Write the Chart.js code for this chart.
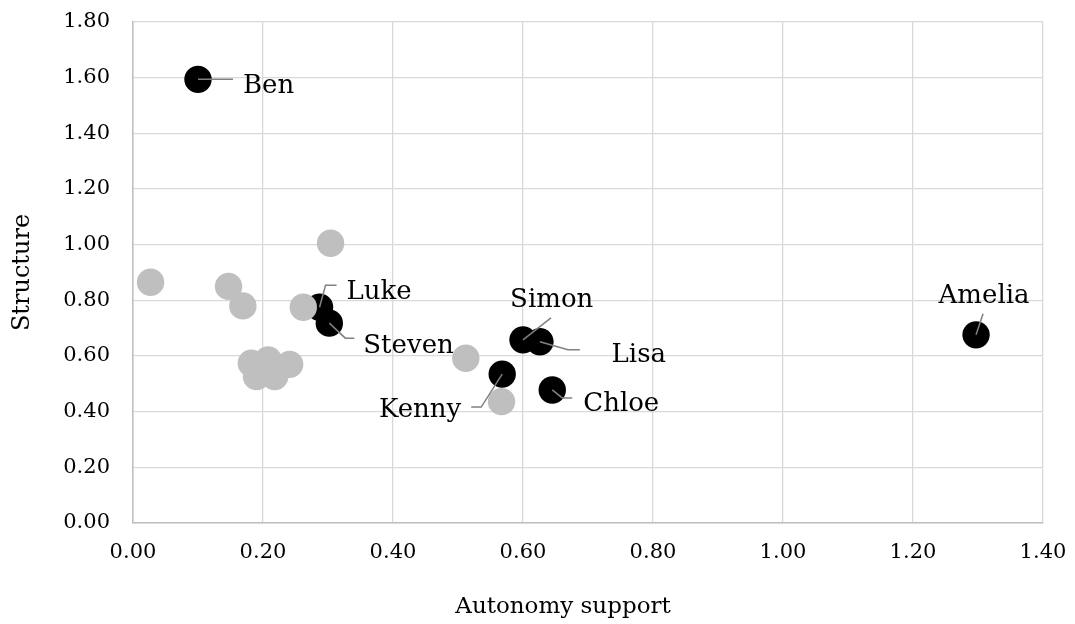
<!DOCTYPE html>
<html>
<head>
<meta charset="utf-8">
<script src="https://cdn.jsdelivr.net/npm/chart.js@4/dist/chart.umd.min.js"></script>
<style>
  html, body { margin: 0; padding: 0; background: #ffffff; }
  #wrap { width: 1075px; height: 624px; position: relative; }
</style>
</head>
<body>
<div id="wrap"><canvas id="c"></canvas></div>
<script>
// ---- Data ----
const namedNames = ['Ben', 'Luke', 'Steven', 'Simon', 'Lisa', 'Kenny', 'Chloe', 'Amelia'];
const namedAutonomy = [0.100, 0.287, 0.302, 0.600, 0.626, 0.568, 0.645, 1.297];
const namedStructure = [1.594, 0.775, 0.718, 0.658, 0.651, 0.535, 0.478, 0.676];

const otherAutonomy = [0.027, 0.147, 0.169, 0.304, 0.262, 0.182, 0.208, 0.241, 0.190, 0.218, 0.512, 0.567];
const otherStructure = [0.865, 0.850, 0.780, 1.005, 0.775, 0.574, 0.586, 0.570, 0.526, 0.526, 0.592, 0.436];

const xTickValues = [0, 0.2, 0.4, 0.6, 0.8, 1.0, 1.2, 1.4];
const yTickValues = [0, 0.2, 0.4, 0.6, 0.8, 1.0, 1.2, 1.4, 1.6, 1.8];

const xTitle = 'Autonomy support';
const yTitle = 'Structure';

// ---- Label layout (pixel offsets from the point, separate from data) ----
const labelLayout = {
  Ben:    { path: [[0, 0], [35, 0]],            text: [45, 13.4],  align: 'left' },
  Luke:   { path: [[0, 0], [6, -22], [17, -22]], text: [27, -8],   align: 'left' },
  Steven: { path: [[0, 0], [16, 15], [25, 15]],  text: [34, 30],   align: 'left' },
  Simon:  { path: [[0, 0], [28, -22]],           text: [28.7, -33.3], align: 'center' },
  Lisa:   { path: [[0, 0], [28, 8], [40, 8]],    text: [71.7, 20], align: 'left' },
  Kenny:  { path: [[0, 0], [-21, 33], [-31, 33]], text: [-41, 42.7], align: 'right' },
  Chloe:  { path: [[0, 0], [10, 8], [20, 8]],    text: [31, 20.7], align: 'left' },
  Amelia: { path: [[0, 0], [7, -21]],            text: [8, -31.7], align: 'center' }
};
// x-axis title placement (canvas px): centre x, baseline y
const xTitleLayout = { x: 563, y: 613 };

const FONT = '"DejaVu Serif", "Liberation Serif", serif';

const namedPoints = namedNames.map((n, i) => ({ x: namedAutonomy[i], y: namedStructure[i], name: n }));
const otherPoints = otherAutonomy.map((v, i) => ({ x: v, y: otherStructure[i] }));

const labelPlugin = {
  id: 'pointLabels',
  afterDatasetsDraw(chart) {
    const ctx = chart.ctx;
    const meta = chart.getDatasetMeta(1);
    ctx.save();
    meta.data.forEach((el, i) => {
      const name = namedNames[i];
      const lay = labelLayout[name];
      if (!lay) return;
      const px = el.x, py = el.y;
      ctx.beginPath();
      ctx.strokeStyle = '#808080';
      ctx.lineWidth = 1.5;
      lay.path.forEach((p, k) => {
        if (k === 0) ctx.moveTo(px + p[0], py + p[1]);
        else ctx.lineTo(px + p[0], py + p[1]);
      });
      ctx.stroke();
      ctx.fillStyle = '#000000';
      ctx.font = '26px ' + FONT;
      ctx.textAlign = lay.align;
      ctx.textBaseline = 'alphabetic';
      ctx.fillText(name, px + lay.text[0], py + lay.text[1]);
    });
    // x-axis title
    ctx.fillStyle = '#000000';
    ctx.font = '23px ' + FONT;
    ctx.textAlign = 'center';
    ctx.textBaseline = 'alphabetic';
    ctx.fillText(xTitle, xTitleLayout.x, xTitleLayout.y);
    ctx.restore();
  }
};

new Chart(document.getElementById('c'), {
  type: 'scatter',
  data: {
    datasets: [
      {
        label: 'Others',
        data: otherPoints,
        backgroundColor: '#bfbfbf',
        borderColor: '#bfbfbf',
        borderWidth: 0,
        pointRadius: 13.7,
        pointHoverRadius: 13.7,
        order: 0
      },
      {
        label: 'Named',
        data: namedPoints,
        backgroundColor: '#000000',
        borderColor: '#000000',
        borderWidth: 0,
        pointRadius: 13.7,
        pointHoverRadius: 13.7,
        order: 1
      }
    ]
  },
  options: {
    responsive: true,
    maintainAspectRatio: false,
    animation: false,
    events: [],
    layout: { padding: { left: 0, top: 22, right: 32, bottom: 0 } },
    plugins: {
      legend: { display: false },
      tooltip: { enabled: false }
    },
    scales: {
      x: {
        type: 'linear',
        min: xTickValues[0],
        max: xTickValues[xTickValues.length - 1],
        afterBuildTicks(scale) { scale.ticks = xTickValues.map(v => ({ value: v })); },
        afterFit(scale) { scale.height = 101; scale.paddingLeft = 0; scale.paddingRight = 0; },
        ticks: {
          padding: 17,
          color: '#000000',
          font: { family: FONT, size: 21 },
          callback: v => Number(v).toFixed(2),
          maxRotation: 0
        },
        grid: { color: '#d9d9d9', lineWidth: 1.3, drawTicks: false },
        border: { color: '#bfbfbf', width: 1.5 },
        title: { display: false }
      },
      y: {
        type: 'linear',
        min: yTickValues[0],
        max: yTickValues[yTickValues.length - 1],
        afterBuildTicks(scale) { scale.ticks = yTickValues.map(v => ({ value: v })); },
        afterFit(scale) { scale.width = 133; scale.paddingTop = 0; scale.paddingBottom = 0; },
        ticks: {
          padding: 23,
          color: '#000000',
          font: { family: FONT, size: 21 },
          callback: v => Number(v).toFixed(2)
        },
        grid: { color: '#d9d9d9', lineWidth: 1.3, drawTicks: false },
        border: { color: '#bfbfbf', width: 1.5 },
        title: {
          display: true,
          text: yTitle,
          color: '#000000',
          font: { family: FONT, size: 24 },
          padding: { top: 8, bottom: 8 }
        }
      }
    }
  },
  plugins: [labelPlugin]
});
</script>
</body>
</html>
